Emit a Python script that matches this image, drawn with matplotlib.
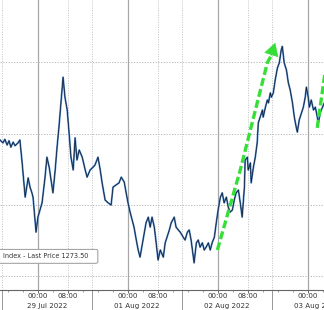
"""
Intraday index chart, 29 Jul - 03 Aug 2022, with green trend arrows.
x axis is session hours measured from 29 Jul 00:00 (weekend gap removed).
"""
import matplotlib
matplotlib.use("Agg")
import matplotlib.pyplot as plt
from matplotlib.patches import FancyBboxPatch

# ---- data --------------------------------------------------------------- #
hours = [-10.0, -9.2, -8.7, -8.1, -7.6, -7.1, -6.5, -6.0, -5.2, -4.7,
         -4.1, -3.3, -2.5, -2.0, -1.5, -1.2, -0.4, 0.1, 1.2, 2.0,
         2.5, 3.1, 3.9, 4.1, 4.7, 5.2, 5.7, 6.3, 6.8, 7.3,
         7.9, 8.4, 8.9, 9.5, 10.0, 10.5, 11.1, 11.9, 12.7, 13.2,
         14.0, 14.8, 15.3, 16.1, 16.7, 17.2, 18.0, 18.8, 19.6, 20.1,
         20.9, 21.7, 22.3, 23.1, 23.6, 24.1, 24.7, 25.2, 25.7, 26.3,
         26.8, 27.3, 28.1, 28.9, 29.5, 30.0, 30.5, 31.1, 31.6, 32.1,
         32.7, 33.5, 34.0, 34.5, 35.1, 35.6, 36.4, 36.9, 37.5, 38.0,
         38.8, 39.3, 39.9, 40.4, 40.9, 41.5, 41.7, 42.3, 42.8, 43.3,
         43.9, 44.4, 44.9, 45.5, 46.0, 46.5, 47.1, 47.6, 48.1, 48.7,
         49.2, 49.7, 50.3, 50.8, 51.3, 51.9, 52.4, 52.9, 53.5, 54.0,
         54.5, 55.1, 55.3, 55.9, 56.1, 56.7, 56.9, 57.5, 58.0, 58.5,
         58.8, 59.3, 59.9, 60.1, 60.7, 61.2, 61.5, 62.0, 62.3, 62.8,
         63.3, 63.9, 64.4, 64.9, 65.2, 65.7, 66.3, 66.8, 67.3, 67.9,
         68.4, 68.9, 69.2, 69.7, 70.3, 70.8, 71.3, 71.6, 72.1, 72.4,
         72.9, 73.5, 74.0, 74.5, 74.8, 75.3, 75.9, 76.4]
price = [1269.1, 1268.7, 1269.2, 1268.4, 1269.0, 1268.1, 1268.8, 1268.3, 1268.7, 1269.1,
         1265.9, 1261.1, 1263.8, 1262.5, 1261.7, 1261.1, 1256.2, 1258.3, 1260.3, 1263.9,
         1266.7, 1265.3, 1262.4, 1261.7, 1264.9, 1268.1, 1270.9, 1274.7, 1277.9, 1275.1,
         1273.3, 1270.1, 1266.7, 1264.9, 1269.4, 1266.3, 1267.7, 1266.7, 1264.9, 1263.9,
         1264.9, 1265.3, 1265.6, 1266.7, 1264.9, 1263.1, 1260.7, 1260.3, 1260.0, 1262.5,
         1262.8, 1263.1, 1263.9, 1263.2, 1261.7, 1260.3, 1258.9, 1257.9, 1256.9, 1255.1,
         1253.7, 1252.7, 1255.1, 1257.5, 1258.3, 1256.9, 1258.3, 1256.9, 1254.7, 1252.3,
         1253.7, 1252.7, 1254.7, 1255.5, 1256.5, 1257.5, 1258.3, 1256.9, 1256.5, 1256.2,
         1255.5, 1255.1, 1256.2, 1256.5, 1255.1, 1252.7, 1251.9, 1254.7, 1255.1, 1254.1,
         1254.7, 1253.7, 1254.1, 1254.7, 1253.7, 1254.7, 1255.5, 1257.5, 1259.3, 1261.1,
         1261.7, 1260.3, 1261.1, 1259.7, 1259.0, 1259.3, 1260.7, 1261.7, 1262.1, 1260.3,
         1258.3, 1262.5, 1266.3, 1266.7, 1264.9, 1265.9, 1263.1, 1265.3, 1266.7, 1268.7,
         1271.5, 1272.3, 1273.3, 1272.3, 1273.7, 1274.7, 1274.3, 1275.7, 1275.1, 1275.7,
         1277.5, 1279.2, 1279.9, 1281.7, 1282.2, 1279.9, 1278.9, 1277.1, 1276.1, 1274.3,
         1272.3, 1270.9, 1270.2, 1271.9, 1272.9, 1273.7, 1275.1, 1276.5, 1275.1, 1273.7,
         1274.7, 1273.3, 1273.7, 1272.3, 1271.5, 1272.9, 1273.7, 1274.3]

LAST_PRICE = 1273.50

# trend arrows (dashed green), tail -> tip
arrow1_h = [47.9, 54.0, 61.2, 62.2]
arrow1_v = [1253.7, 1264.9, 1279.9, 1280.9]
arrow1_tip = (63.3, 1282.7)
arrow2_h = [74.5, 77.5]
arrow2_v = [1270.8, 1282.0]

# axis furniture
midnights = [0, 24, 48, 72]
eights = [8, 32, 56]
separators = [-9.5, 14.5, 38.5, 62.5]
tick_pos = [0, 8, 24, 32, 48, 56, 72]
tick_lab = ["00:00", "08:00", "00:00", "08:00", "00:00", "08:00", "00:00"]
date_pos = [2.5, 26.5, 50.5, 74.5]
date_lab = ["29 Jul 2022", "01 Aug 2022", "02 Aug 2022", "03 Aug 2022"]
gridlines = [1250, 1260, 1270, 1280]

GREEN = "#36df36"
FS_AX = 5.1     # time / date labels
FS_LEG = 4.7    # legend box

plt.rcParams["font.family"] = ["DejaVu Sans"]

fig = plt.figure(figsize=(3.24, 3.10), dpi=100)
ax = fig.add_axes([0, 20 / 310, 1, 290 / 310])
ax.set_xlim(-10.0, 76.3)
ax.set_ylim(1248.1, 1288.7)

for g in gridlines:
    ax.axhline(g, color="#b5b5b5", lw=0.7, ls=(0, (1.2, 1.6)), zorder=1)
for m in midnights:
    ax.axvline(m, color="#a8a8a8", lw=0.9, zorder=1)
for e in eights + separators:
    ax.axvline(e, color="#c0c0c0", lw=0.7, ls=(0, (1.0, 1.5)), zorder=1)

ax.plot(hours, price, color="#4f86c8", lw=1.3, zorder=3)
ax.plot(hours, price, color="#0e1826", lw=0.5, zorder=4)

# green dashed arrows
ax.plot(arrow1_h, arrow1_v, color=GREEN, lw=2.4, dashes=(2.4, 1.0),
        solid_capstyle="butt", zorder=5)
ax.annotate("", xy=arrow1_tip, xytext=(arrow1_h[-1], arrow1_v[-1]),
            arrowprops=dict(arrowstyle="-|>,head_length=0.6,head_width=0.35",
                            color=GREEN, lw=0.5, mutation_scale=14,
                            shrinkA=0, shrinkB=0), zorder=5)
ax.plot(arrow2_h, arrow2_v, color=GREEN, lw=2.4, dashes=(2.4, 1.0),
        solid_capstyle="butt", zorder=5)

# x axis
for s in ["top", "right", "left"]:
    ax.spines[s].set_visible(False)
ax.spines["bottom"].set_color("#666666")
ax.spines["bottom"].set_linewidth(0.8)
ax.set_yticks([])
ax.set_xticks(tick_pos)
ax.set_xticklabels(tick_lab)
ax.set_xticks(range(-8, 77, 4), minor=True)
ax.tick_params(axis="x", which="major", length=1.8, width=0.6, pad=0.6,
               labelsize=FS_AX, colors="#555555", labelcolor="#333333")
ax.tick_params(axis="x", which="minor", length=1.2, width=0.5, colors="#777777")

xt = ax.get_xaxis_transform()
for s in separators:
    ax.plot([s, s], [0, -0.08], transform=xt, color="#888888", lw=0.6,
            clip_on=False)
for p, lab in zip(date_pos, date_lab):
    ax.text(p, -0.054, lab, transform=xt, ha="center", va="center",
            fontsize=FS_AX, color="#333333", clip_on=False)

# legend box
box = FancyBboxPatch((-0.02, 0.092), 0.322, 0.048, transform=ax.transAxes,
                     boxstyle="round,pad=0,rounding_size=0.006",
                     facecolor="white", edgecolor="#9a9a9a", lw=0.7, zorder=6)
ax.add_patch(box)
ax.text(0.009, 0.116, f"Index - Last Price {LAST_PRICE:.2f}",
        transform=ax.transAxes, ha="left", va="center", fontsize=FS_LEG,
        color="#333333", zorder=7)

fig.savefig("out.png", dpi=100)
